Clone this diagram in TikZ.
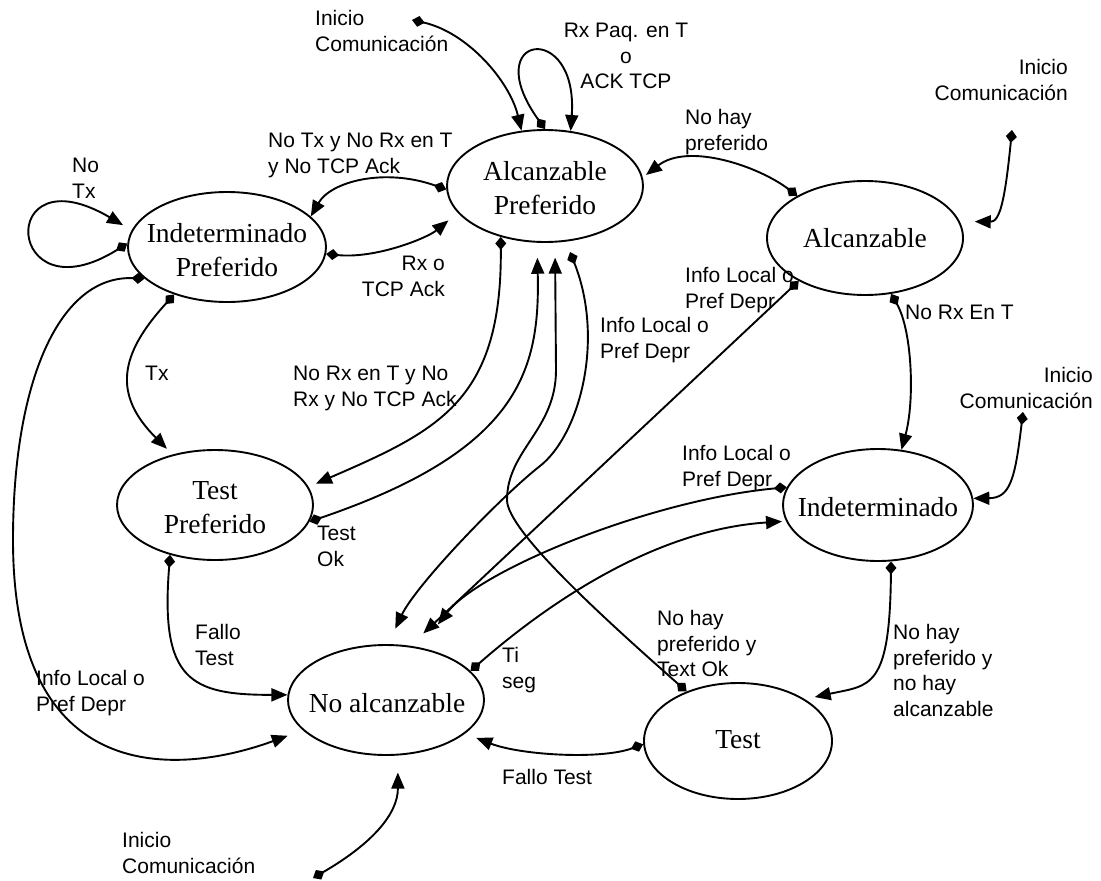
\documentclass[tikz,border=0pt]{standalone}
\usepackage{fontspec}
\setmainfont{Liberation Serif}
\setsansfont{Liberation Sans}
\usetikzlibrary{arrows.meta,shapes.geometric}
\begin{document}
\begin{tikzpicture}[x=1pt,y=-1pt,
  st/.style={draw, ellipse, line width=1.9pt, inner sep=0pt},
  sttext/.style={font=\fontsize{27.5}{34}\selectfont\rmfamily, align=center, inner sep=0pt},
  lbl/.style={font=\fontsize{21}{25.5}\selectfont\sffamily, inner sep=0pt},
  lw/.style={lbl, anchor=base west, align=left},
  le/.style={lbl, anchor=base east, align=right},
  tr/.style={line width=1.9pt, {Diamond[length=13pt,width=11pt]}-{Triangle[length=16pt,width=13pt]}}
]
\useasboundingbox (0,0) rectangle (1101,881);

% states
\node[st, minimum width=196pt, minimum height=112pt] (ap) at (545,186) {};
\node[sttext] (apt) at (545,188.5) {Alcanzable\\Preferido};
\node[st, minimum width=196pt, minimum height=114pt] (al) at (865,238) {};
\node[sttext] (alt) at (865,238) {Alcanzable};
\node[st, minimum width=198pt, minimum height=110pt] (ip) at (227,247) {};
\node[sttext] (ipt) at (227,250) {Indeterminado\\Preferido};
\node[st, minimum width=196pt, minimum height=110pt] (tp) at (215,505) {};
\node[sttext] (tpt) at (215,507.5) {Test\\Preferido};
\node[st, minimum width=196pt, minimum height=110pt] (na) at (386,700) {};
\node[sttext] (nat) at (387,703) {No alcanzable};
\node[st, minimum width=190pt, minimum height=112pt] (ind) at (878,505) {};
\node[sttext] (indt) at (878,507) {Indeterminado};
\node[st, minimum width=188pt, minimum height=116pt] (te) at (738,741) {};
\node[sttext] (tet) at (738,740) {Test};

% free ends
\coordinate (i1) at (412,20);
\coordinate (i2) at (1012,130);
\coordinate (i3) at (1023,412);
\coordinate (i4) at (313,878);
\coordinate (apd) at (570,252);

% connectors
\draw[tr] (i1) .. controls +(55,12) and +(-12,-50) .. (ap.113);
\draw[tr] (ap.90) .. controls +(-68,-95) and +(8,-112) .. (ap.65);
\draw[tr, shorten >=4pt] (al.148) .. controls +(-40,-30) and +(45,-35) .. (ap.5);
\draw[tr] (ap.182) .. controls +(-62,-22) and +(20,-35) .. (ip.20);
\draw[tr, shorten >=12pt] (ip.-4) .. controls +(50,5) and +(-30,25) .. (ap.197);
\draw[tr, shorten >=10pt] (ip.178) .. controls (5,320) and (-5,150) .. (ip.170);
\draw[tr, shorten >=8pt] (ip.222) .. controls +(-55,60) and +(-60,-60) .. (tp.130);
\draw[tr, shorten >=16pt] (ip.201) .. controls (60,275) and (13,380) .. (13,540) .. controls (13,790) and (180,775) .. (na.200);
\draw[tr, shorten >=8pt] (ap.229) .. controls (502,400) and (440,430) .. (tp.11);
\draw[tr, shorten >=15pt] (tp.-10) .. controls (520,450) and (540,370) .. (ap.262);
\draw[tr, shorten >=15pt] (te.136) .. controls (600,615) and (507,530) .. (507,500) .. controls (507,450) and (556,430) .. (556,370) -- (ap.280);
\draw[tr, shorten >=17pt] (apd) .. controls (605,340) and (579.5,435) .. (540,466) .. controls (500.5,497) and (416,585) .. (na.88);
\draw[tr, shorten >=18pt] (al.213) -- (na.66);
\draw[tr, shorten >=29pt] (ind.169) .. controls (650,500) and (480,570) .. (na.57);
\draw[tr, shorten >=4pt] (na.19) .. controls (540,610) and (650,530) .. (ind.190);
\draw[tr, shorten >=10pt] (ind.283) .. controls (890,690) and (870,685) .. (te.32);
\draw[tr, shorten >=12pt] (te.182) .. controls (600,760) and (520,755) .. (na.-23);
\draw[tr] (tp.228) .. controls (160,680) and (190,695) .. (na.177);
\draw[tr, shorten >=15pt] (i2) .. controls (1005,200) and (1000,222) .. (al.10);
\draw[tr] (i3) .. controls (1015,480) and (1010,498) .. (ind.4);
\draw[tr, shorten >=17pt] (i4) .. controls (370,845) and (398,815) .. (na.282);
\draw[tr] (al.295) .. controls (912,330) and (915,400) .. (ind.67);

% labels (anchor = baseline of last line)
\node[lw] (l1) at (315,51) {Inicio\\Comunicación};
\node[lbl, anchor=base, align=center] (l2) at (626,88.5) {Rx Paq. en T\\o\\ACK TCP};
\node[lw] (l3) at (685,150) {No hay\\preferido};
\node[le] (l4) at (1068,100) {Inicio\\Comunicación};
\node[lw] (l5) at (268,173) {No Tx y No Rx en T\\y No TCP Ack};
\node[lw] (l6) at (72,198) {No\\Tx};
\node[le] (l7) at (445,296) {Rx o\\TCP Ack};
\node[lw] (l8) at (685,308) {Info Local o\\Pref Depr};
\node[lw] (l9) at (600,358) {Info Local o\\Pref Depr};
\node[lw] (l10) at (905,319.5) {No Rx En T};
\node[lw] (l11) at (145,380.5) {Tx};
\node[lw] (l12) at (293,406) {No Rx en T y No\\Rx y No TCP Ack};
\node[le] (l13) at (1093,408) {Inicio\\Comunicación};
\node[lw] (l14) at (682,486) {Info Local o\\Pref Depr};
\node[lw] (l15) at (317,566) {Test\\Ok};
\node[lw] (l16) at (657,676.5) {No hay\\preferido y\\Text Ok};
\node[lw] (l17) at (893,716) {No hay\\preferido y\\no hay\\alcanzable};
\node[lw] (l18) at (195,665) {Fallo\\Test};
\node[lw] (l19) at (502,688) {Ti\\seg};
\node[lw] (l20) at (36,711) {Info Local o\\Pref Depr};
\node[lw] (l21) at (502,784.5) {Fallo Test};
\node[lw] (l22) at (122,873) {Inicio\\Comunicación};
\end{tikzpicture}
\end{document}
